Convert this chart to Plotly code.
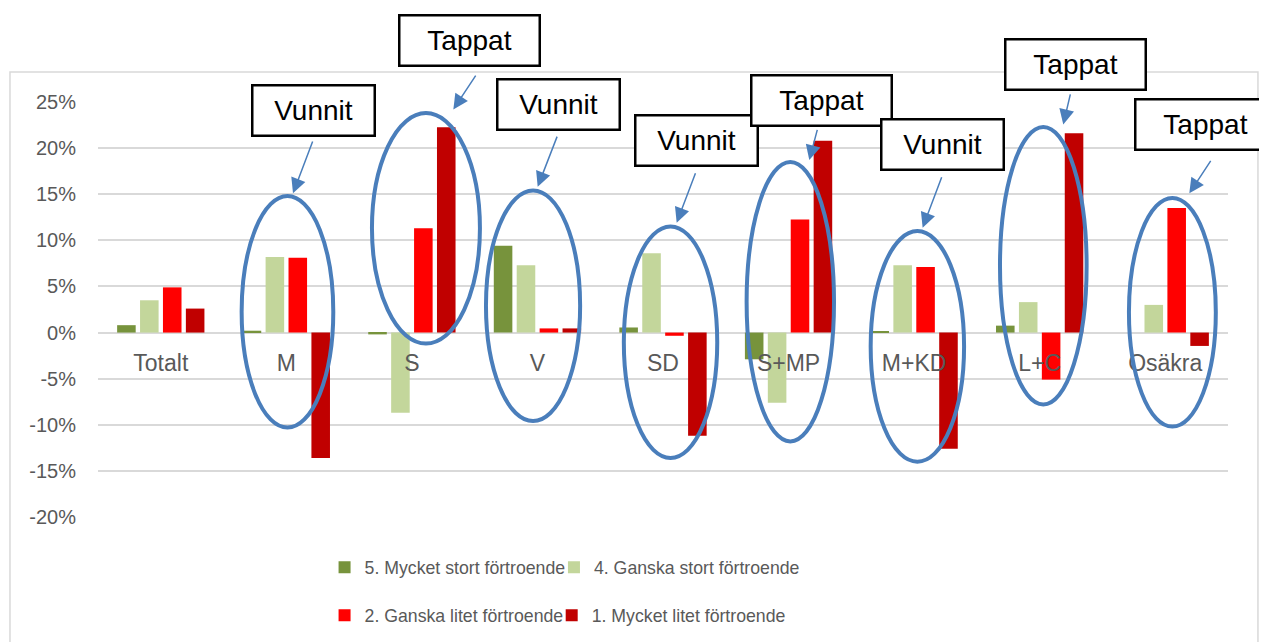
import plotly.graph_objects as go

# ---- data ----
categories = ["Totalt", "M", "S", "V", "SD", "S+MP", "M+KD", "L+C", "Osäkra"]
series_names = ["5. Mycket stort förtroende", "4. Ganska stort förtroende",
                "2. Ganska litet förtroende", "1. Mycket litet förtroende"]
v5 = [0.8, 0.2, -0.2, 9.4, 0.55, -2.9, 0.15, 0.75, 0.0]
v4 = [3.5, 8.2, -8.7, 7.3, 8.6, -7.6, 7.3, 3.3, 3.0]
v2 = [4.9, 8.1, 11.3, 0.45, -0.35, 12.25, 7.1, -5.1, 13.5]
v1 = [2.6, -13.6, 22.25, 0.45, -11.2, 20.8, -12.6, 21.6, -1.45]
tick_vals = [-20, -15, -10, -5, 0, 5, 10, 15, 20, 25]
tick_text = ["-20%", "-15%", "-10%", "-5%", "0%", "5%", "10%", "15%", "20%", "25%"]
Y_MIN, Y_MAX = -20, 25

colors = ["#77933C", "#C3D69B", "#FF0000", "#C00000"]
legend_ids = ["legend", "legend2", "legend3", "legend4"]
legend_pos = [(0.2005, -0.122), (0.4035, -0.122), (0.2005, -0.238), (0.4015, -0.238)]

# callouts: label, box centre (x, y-in-data-units), arrow tail, arrow head, ellipse centre/halfwidth/top/bottom
callouts = [
    dict(text="Vunnit", box=(1.214, 24.09), w=118, tail=(1.214, 20.87), head=(1.053, 15.10), ell=(1.009, 0.365, 14.8, -10.3)),
    dict(text="Tappat", box=(2.462, 31.70), w=136, tail=(2.516, 28.02), head=(2.330, 24.20), ell=(2.112, 0.430, 23.8, -1.2)),
    dict(text="Vunnit", box=(3.164, 24.72), w=118, tail=(3.161, 21.41), head=(3.002, 15.81), ell=(2.965, 0.375, 15.4, -9.6)),
    dict(text="Vunnit", box=(4.264, 20.82), w=118, tail=(4.263, 17.44), head=(4.109, 11.91), ell=(4.060, 0.372, 11.5, -13.6)),
    dict(text="Tappat", box=(5.264, 25.11), w=136, tail=(5.232, 22.14), head=(5.165, 18.70), ell=(5.014, 0.348, 18.5, -11.8)),
    dict(text="Vunnit", box=(6.223, 20.37), w=118, tail=(6.224, 17.00), head=(6.068, 11.37), ell=(6.026, 0.372, 11.0, -14.0)),
    dict(text="Tappat", box=(7.284, 29.05), w=136, tail=(7.247, 25.99), head=(7.188, 22.57), ell=(7.029, 0.345, 22.3, -7.8)),
    dict(text="Tappat", box=(8.320, 22.53), w=136, tail=(8.370, 18.78), head=(8.192, 15.10), ell=(8.057, 0.346, 14.6, -10.2)),
]

BLUE = "#4A7EBB"
FONT = "Liberation Sans, Arial, sans-serif"


def to_paper(y):
    return (y - Y_MIN) / (Y_MAX - Y_MIN)


fig = go.Figure()
for name, vals, col, lg in zip(series_names, [v5, v4, v2, v1], colors, legend_ids):
    fig.add_trace(go.Bar(x=categories, y=vals, name=name, marker_color=col,
                         marker_line_width=0, legend=lg))

shapes = []
annotations = []
for c in callouts:
    cx, hw, top, bot = c["ell"]
    shapes.append(dict(type="circle", xref="x", yref="y", x0=cx - hw, x1=cx + hw,
                       y0=bot, y1=top, line=dict(color=BLUE, width=4), layer="above"))
    annotations.append(dict(xref="x", yref="y", x=c["head"][0], y=c["head"][1],
                            axref="x", ayref="y", ax=c["tail"][0], ay=c["tail"][1],
                            text="", showarrow=True, arrowhead=2, arrowsize=2.0,
                            arrowwidth=1.5, arrowcolor=BLUE, standoff=0))
    annotations.append(dict(xref="x", yref="paper", x=c["box"][0], y=to_paper(c["box"][1]),
                            text=c["text"], showarrow=False, xanchor="center", yanchor="middle",
                            width=c["w"], height=46, bgcolor="white", bordercolor="black",
                            borderwidth=2.5, borderpad=1,
                            font=dict(family=FONT, size=28, color="black")))

# chart border
shapes.insert(0, dict(type="rect", xref="paper", yref="paper", x0=-0.0779, x1=1.0265,
                      y0=-0.4, y1=1.072, line=dict(color="#D9D9D9", width=1.5), layer="below"))

legend_layouts = {}
for lid, (lx, ly) in zip(legend_ids, legend_pos):
    legend_layouts[lid] = dict(orientation="h", x=lx, xanchor="left", y=ly, yanchor="middle",
                               font=dict(size=17.7, color="#595959"),
                               bgcolor="rgba(0,0,0,0)")

fig.update_layout(
    width=1259, height=634,
    margin=dict(l=90, r=39, t=94, b=125, autoexpand=False),
    paper_bgcolor="white", plot_bgcolor="white",
    barmode="group", bargap=0.27, bargroupgap=0.19,
    font=dict(family=FONT, color="#595959"),
    shapes=shapes, annotations=annotations,
    xaxis=dict(anchor="free", position=0.444, showline=False, showgrid=False,
               range=[-0.5, len(categories) - 0.5], autorange=False,
               ticks="", tickfont=dict(size=23, color="#595959"), ticklabelstandoff=14,
               zeroline=False),
    yaxis=dict(range=[Y_MIN, Y_MAX], autorange=False, tickvals=tick_vals, ticktext=tick_text,
               showgrid=True, gridcolor="#D9D9D9", gridwidth=1.5, zeroline=False,
               ticks="", tickfont=dict(size=20, color="#595959"), ticklabelstandoff=21),
    showlegend=True,
    **legend_layouts,
)

fig.write_html("out.html")
